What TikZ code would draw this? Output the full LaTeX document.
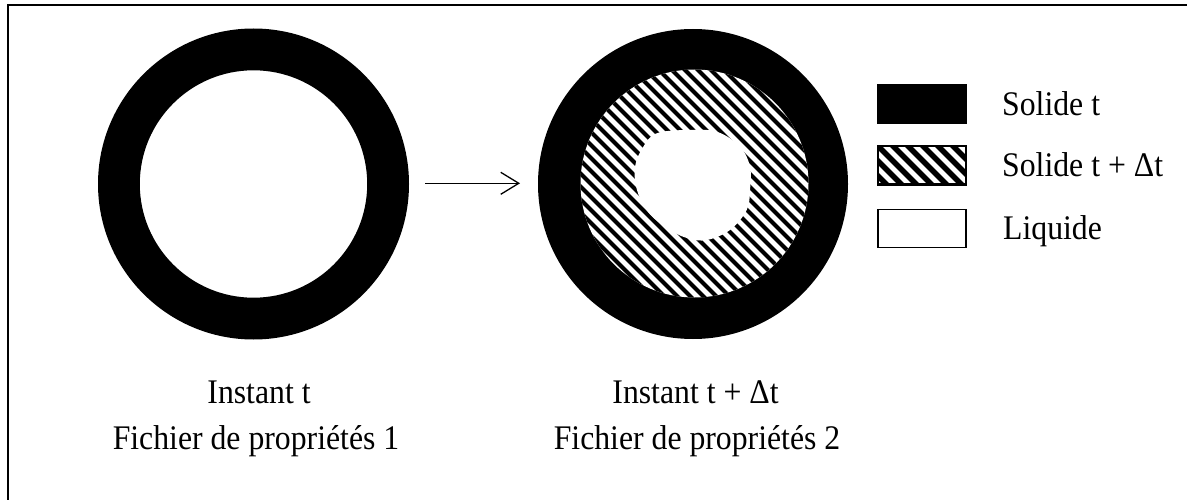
\documentclass[tikz,border=0pt]{standalone}
\usepackage{fontspec}
\setmainfont{Liberation Serif}
\usetikzlibrary{arrows.meta}
\newcommand\condensetxt[1]{\scalebox{0.92}[1]{#1}}
\begin{document}
\begin{tikzpicture}[x=1pt,y=-1pt,
  lbl/.style={inner sep=0pt, font=\fontsize{34.5}{40}\selectfont},
  legbox/.style={draw=black, line width=1.4pt, minimum width=88pt, minimum height=38pt, inner sep=0pt},
  hatchline/.style={line width=4.2pt},
  leghatch/.style={line width=5.5pt},
  arrowline/.style={line width=1.3pt, -{Straight Barb[length=18pt,width=22pt,line width=1.3pt]}}]
\useasboundingbox (0,0) rectangle (1187,500);
% frame (left and top edges)
\draw[line width=2pt] (7.5,500) -- (7.5,5.5) -- (1187,5.5);
% circle 1
\coordinate (c1) at (253.5,184);
\fill[even odd rule] (c1) circle[radius=155.5pt] (c1) circle[radius=113.7pt];
% circle 2
\coordinate (c2) at (693,184);
\coordinate (h2) at (694.5,183.5);
\fill (c2) circle[radius=155pt];
\fill[white] (h2) circle[radius=114pt];
\begin{scope}
  \clip (h2) circle[radius=114pt];
  \foreach \s in {-273,-260,...,273}
    \draw[hatchline] (544.5+\s,33.5) -- (844.5+\s,333.5);
\end{scope}
\fill[white] plot[smooth cycle, tension=0.6] coordinates {
  (656.7,133.3) (686.7,130) (716.7,131.7) (740,146.7) (750,166.7) (750,190)
  (746.7,210) (730,230) (706.7,240) (686.7,238) (666.7,228) (648,212)
  (637,190) (635,166.7) (643.3,146.7)};
% arrow
\coordinate (a1) at (425,183.3);
\coordinate (a2) at (520,183.3);
\draw[arrowline] (a1) -- (a2);
% legend
\node[legbox, fill=black] (lb1) at (922,104) {};
\node[legbox] (lb2) at (922,165.2) {};
\node[legbox] (lb3) at (922,228.5) {};
\begin{scope}
  \clip (lb2.south west) rectangle (lb2.north east);
  \foreach \s in {-75,-60,...,120}
    \draw[leghatch] (858+\s,126) -- (938+\s,206);
\end{scope}
\draw[line width=1.4pt] (lb2.south west) rectangle (lb2.north east);
\node[lbl, anchor=base west] (t1) at (1002,115.5) {\condensetxt{Solide t}};
\node[lbl, anchor=base west] (t2) at (1002,177) {\condensetxt{Solide t + Δt}};
\node[lbl, anchor=base west] (t3) at (1003,239.5) {\condensetxt{Liquide}};
% captions
\node[lbl, anchor=base] (i1) at (259,403) {\condensetxt{Instant t}};
\node[lbl, anchor=base] (f1) at (256,449) {\condensetxt{Fichier de propriétés 1}};
\node[lbl, anchor=base] (i2) at (695.5,403) {\condensetxt{Instant t + Δt}};
\node[lbl, anchor=base] (f2) at (697,449) {\condensetxt{Fichier de propriétés 2}};
\end{tikzpicture}
\end{document}
